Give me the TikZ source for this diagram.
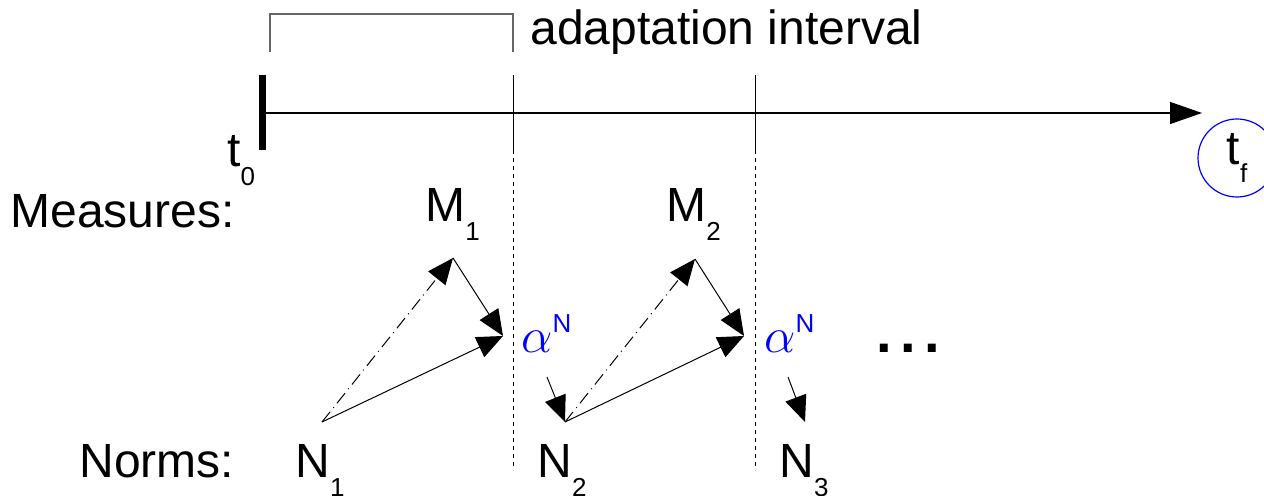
\documentclass[tikz,border=0pt]{standalone}
\usepackage{fontspec}
\setmainfont{Liberation Sans}
\usepackage{xcolor}
\usetikzlibrary{arrows.meta, positioning}
\newcommand\lowsub[2]{#1\raisebox{-9.3pt}{\fontsize{13}{13}\selectfont #2}}
\newcommand\upsup[2]{#1\raisebox{10pt}{\fontsize{13}{13}\selectfont #2}}

\begin{document}
\begin{tikzpicture}[x=0.5pt, y=-0.5pt, >={Triangle[length=13pt, width=11pt]},
  font=\fontsize{24}{28}\selectfont,
  lbl/.style={inner sep=0pt, anchor=base west},
  coef/.style={lbl, text=blue},
  guide/.style={line width=0.5pt, dash pattern=on 2pt off 2pt},
  flow/.style={->, line width=0.5pt},
  predict/.style={->, line width=0.5pt, dash pattern=on 6.5pt off 2.5pt on 0.5pt off 2.5pt}]
\useasboundingbox (0,0) rectangle (1264,496);
\node[lbl] (adapt) at (530,45) {adaptation interval};
\node[lbl] (t0) at (227,167) {\lowsub{t}{0}};
\node[draw=blue, circle, line width=0.6pt, minimum size=39pt, inner sep=0pt] (tf) at (1237,158) {\lowsub{t}{f}};
\node[lbl] (meas) at (10,228) {Measures:};
\node[lbl] (M1) at (425,222) {\lowsub{M}{1}};
\node[lbl] (M2) at (666,222) {\lowsub{M}{2}};
\node[lbl] (norms) at (79,478) {Norms:};
\node[lbl] (N1) at (295,478) {\lowsub{N}{1}};
\node[lbl] (N2) at (537,478) {\lowsub{N}{2}};
\node[lbl] (N3) at (779,478) {\lowsub{N}{3}};
\node[coef] (a1) at (521,353) {\upsup{$\alpha$}{N}};
\node[coef] (a2) at (764,353) {\upsup{$\alpha$}{N}};
\node[lbl, font=\fontsize{28}{30}\selectfont\bfseries] (dots) at (876,353) {.\kern4.2pt.\kern4.2pt.};
\coordinate (start) at (262,113);
\coordinate (end) at (1202,113);
\coordinate (n1p) at (322,422);
\coordinate (m1p) at (453,258);
\coordinate (c1) at (503,336);
\coordinate (a1p) at (547,377);
\coordinate (n2p) at (565,422);
\coordinate (m2p) at (695,259);
\coordinate (c2) at (744,336);
\coordinate (a2p) at (788,377);
\coordinate (n3p) at (805,422);
\draw[line width=3.5pt] (262,75) -- (262,150);
\draw[line width=0.6pt, -{Triangle[length=16pt, width=11pt]}] (start) -- (end);
\draw[black!60, line width=0.6pt] (270,52) |- (513,14) -- (513,52);
\foreach \x in {513,755} {
  \draw[line width=0.5pt] (\x,75) -- (\x,150);
  \draw[guide] (\x,150) -- (\x,470);
}
\draw[predict] (n1p) -- (m1p);
\draw[flow] (m1p) -- (c1);
\draw[flow] (n1p) -- (c1);
\draw[flow] (a1p) -- (n2p);
\draw[predict] (n2p) -- (m2p);
\draw[flow] (m2p) -- (c2);
\draw[flow] (n2p) -- (c2);
\draw[flow] (a2p) -- (n3p);
\end{tikzpicture}
\end{document}
